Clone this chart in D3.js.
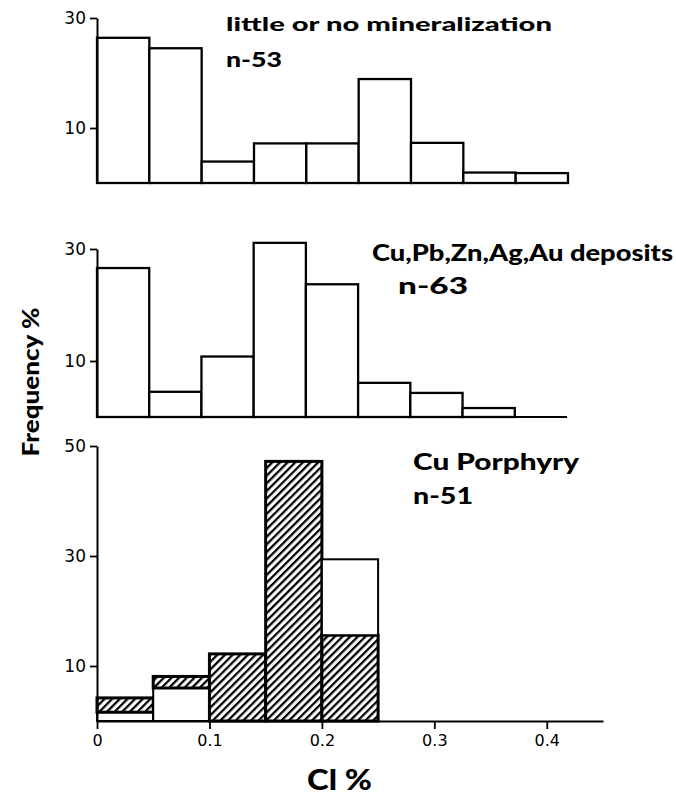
<!DOCTYPE html>
<html>
<head>
<meta charset="utf-8">
<script src="https://cdn.jsdelivr.net/npm/d3@7"></script>
<style>
  html, body { margin: 0; padding: 0; background: #fff; }
  svg { display: block; }
</style>
</head>
<body>
<div id="chart"></div>
<script>
// ---- data ----
const binStarts = [0, 0.05, 0.10, 0.15, 0.20, 0.25, 0.30, 0.35, 0.40];
const binWidth = 0.05;
const xTickValues = [0, 0.1, 0.2, 0.3, 0.4];
const xTickLabels = ["0", "0.1", "0.2", "0.3", "0.4"];

const noMinPct = [26.4, 24.5, 3.9, 7.2, 7.2, 18.9, 7.3, 1.9, 1.8];
const depositPct = [26.6, 4.5, 10.8, 31.1, 23.7, 6.1, 4.3, 1.6, 0];
const porphyryOpenLow = [1.6, 6.0, 0, 0, 0];
const porphyryHatched = [2.6, 2.1, 12.2, 47.2, 15.6];
const porphyryOpenHigh = [0, 0, 0, 0, 13.8];

const topTicks = [10, 30];
const midTicks = [10, 30];
const botTicks = [10, 30, 50];

const panelTitles = ["little or no mineralization", "Cu,Pb,Zn,Ag,Au deposits", "Cu Porphyry"];
const panelCounts = ["n-53", "n-63", "n-51"];

// ---- drawing ----
const W = 676, H = 796;
const svg = d3.select("#chart").append("svg").attr("width", W).attr("height", H);

const defs = svg.append("defs");
const pat = defs.append("pattern")
  .attr("id", "hatch").attr("patternUnits", "userSpaceOnUse")
  .attr("width", 5.4).attr("height", 5.4)
  .attr("patternTransform", "rotate(45)");
pat.append("rect").attr("width", 5.4).attr("height", 5.4).attr("fill", "#fff");
pat.append("line").attr("x1", 1).attr("y1", 0).attr("x2", 1).attr("y2", 5.4)
  .attr("stroke", "#000").attr("stroke-width", 2.5);

const tickFont = "DejaVu Sans, Liberation Sans, sans-serif";
const titleFont = "Lato, 'Open Sans', sans-serif";

function yAxis(g, y, ticks) {
  const ax = d3.axisLeft(y).tickValues(ticks).tickSize(7).tickSizeOuter(0).tickPadding(4);
  g.call(ax);
  g.select(".domain").attr("stroke", "#000").attr("stroke-width", 2);
  g.selectAll(".tick line").attr("stroke", "#000").attr("stroke-width", 1.8);
  g.selectAll(".tick text").attr("font-family", tickFont).attr("font-size", 17).attr("fill", "#000");
}

function baseline(x, yv) {
  svg.append("line")
    .attr("x1", x(0)).attr("x2", x(0.45))
    .attr("y1", yv).attr("y2", yv)
    .attr("stroke", "#000").attr("stroke-width", 2);
}

function simpleBars(x, y, vals) {
  const data = binStarts.map((s, i) => ({ s, v: vals[i] })).filter(d => d.v > 0);
  svg.append("g").selectAll("rect").data(data).join("rect")
    .attr("x", d => x(d.s)).attr("width", d => x(d.s + binWidth) - x(d.s))
    .attr("y", d => y(d.v)).attr("height", d => y(0) - y(d.v))
    .attr("fill", "#fff").attr("stroke", "#000").attr("stroke-width", 2.3);
}

function label(txt, x, y, size, len) {
  svg.append("text").attr("x", x).attr("y", y)
    .attr("font-family", titleFont).attr("font-weight", 900).attr("font-size", size)
    .attr("textLength", len).attr("lengthAdjust", "spacingAndGlyphs")
    .attr("fill", "#000").text(txt);
}

// Panel 1
const x1 = d3.scaleLinear().domain([0, 0.45]).range([97, 568]);
const y1 = d3.scaleLinear().domain([0, 30]).range([183, 18]);
baseline(x1, y1(0));
simpleBars(x1, y1, noMinPct);
yAxis(svg.append("g").attr("transform", "translate(97,0)"), y1, topTicks);
label(panelTitles[0], 226, 31, 18.5, 326);
label(panelCounts[0], 226, 67, 21, 56);

// Panel 2
const x2 = d3.scaleLinear().domain([0, 0.45]).range([97, 567]);
const y2 = d3.scaleLinear().domain([0, 30]).range([417, 249]);
baseline(x2, y2(0));
simpleBars(x2, y2, depositPct);
yAxis(svg.append("g").attr("transform", "translate(97,0)"), y2, midTicks);
label(panelTitles[1], 372, 261, 22.5, 301);
label(panelCounts[1], 398, 294, 22, 70);

// Panel 3
const x3 = d3.scaleLinear().domain([0, 0.45]).range([97, 603]);
const y3 = d3.scaleLinear().domain([0, 50]).range([721, 446]);
const stacks = porphyryHatched.map((h, i) => {
  const a = porphyryOpenLow[i], b = a + h, c = b + porphyryOpenHigh[i];
  return [
    { s: binStarts[i], lo: 0, hi: a, hatch: false },
    { s: binStarts[i], lo: a, hi: b, hatch: true },
    { s: binStarts[i], lo: b, hi: c, hatch: false }
  ];
}).flat().filter(d => d.hi > d.lo);
svg.append("g").selectAll("rect").data(stacks).join("rect")
  .attr("x", d => x3(d.s)).attr("width", d => x3(d.s + binWidth) - x3(d.s))
  .attr("y", d => y3(d.hi)).attr("height", d => y3(d.lo) - y3(d.hi))
  .attr("fill", d => d.hatch ? "url(#hatch)" : "#fff")
  .attr("stroke", "#000").attr("stroke-width", d => d.hatch ? 3 : 2);

const xAx = d3.axisBottom(x3).tickValues(xTickValues)
  .tickFormat((d, i) => xTickLabels[i]).tickSize(8).tickSizeOuter(0).tickPadding(6);
const gx = svg.append("g").attr("transform", `translate(0,${y3(0)})`).call(xAx);
gx.select(".domain").attr("stroke", "#000").attr("stroke-width", 2);
gx.selectAll(".tick line").attr("stroke", "#000").attr("stroke-width", 1.8);
gx.selectAll(".tick text").attr("font-family", tickFont).attr("font-size", 16).attr("fill", "#000");
yAxis(svg.append("g").attr("transform", "translate(97,0)"), y3, botTicks);
label(panelTitles[2], 413, 470, 22.5, 166);
label(panelCounts[2], 413, 504, 22, 60);

// Axis titles
svg.append("text")
  .attr("transform", "translate(39,382) rotate(-90)")
  .attr("text-anchor", "middle")
  .attr("font-family", titleFont).attr("font-weight", 900).attr("font-size", 23)
  .attr("textLength", 149).attr("lengthAdjust", "spacingAndGlyphs")
  .text("Frequency %");
svg.append("text")
  .attr("x", 307).attr("y", 790)
  .attr("font-family", titleFont).attr("font-weight", 900).attr("font-size", 28)
  .attr("textLength", 65).attr("lengthAdjust", "spacingAndGlyphs")
  .text("Cl %");
</script>
</body>
</html>
